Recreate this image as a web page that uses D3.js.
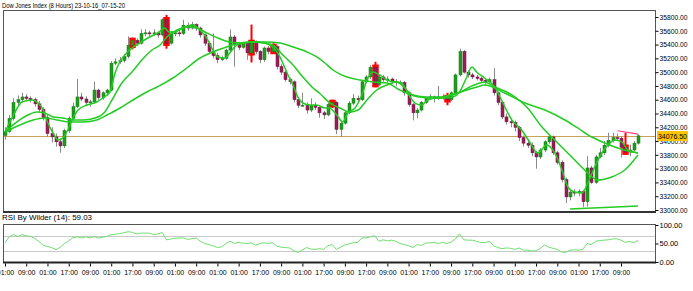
<!DOCTYPE html>
<html>
<head>
<meta charset="utf-8">
<script src="https://cdn.jsdelivr.net/npm/d3@7"></script>
<style>
  body { margin: 0; background: #fff; }
  text { font-family: "Liberation Sans", Arial, sans-serif; fill: #000; }
</style>
</head>
<body>
<svg id="canvas" width="693" height="291"></svg>
<script>
// ************************************************************************************** //
// Data (8 hour bars)

var opens = [34080,34140,34330,34560,34600,34640,34620,34600,34540,34460,34340,34110,34060,33990,33930,34150,34330,34500,34640,34610,
  34560,34570,34740,34630,34700,34740,35130,35150,35170,35230,35390,35460,35420,35560,35570,35560,35570,35540,35760,35420,
  35560,35570,35560,35680,35640,35690,35640,35540,35420,35300,35240,35180,35200,35320,35510,35400,35360,35420,35280,35430,
  35300,35180,35350,35300,35370,35080,35000,34890,34860,34600,34520,34520,34450,34520,34490,34410,34380,34530,34560,34170,
  34260,34410,34550,34620,34600,34860,34930,35070,34820,34930,34890,34900,34860,34850,34850,34700,34530,34410,34450,34560,
  34620,34640,34620,34640,34630,34600,34700,34960,35300,35000,34960,34930,34910,34880,34860,34890,34700,34560,34350,34280,
  34270,34200,34050,33970,33940,33830,33770,33870,33990,34060,33830,33690,33440,33190,33260,33250,33270,33120,33610,33400,
  33770,33830,33940,34010,34050,34040,33910,33840,33870,33970];
var highs = [34200,34380,34620,34660,34700,34680,34650,34630,34580,34490,34380,34200,34110,34040,34180,34360,34560,34900,34700,34650,
  34600,34860,34760,34720,34760,35160,35200,35220,35260,35520,35500,35490,35620,35620,35600,35620,35590,35780,35830,35600,
  35600,35620,35760,35720,35730,35710,35660,35560,35440,35560,35280,35240,35340,35620,35540,35440,35440,35440,35690,35460,
  35320,35370,35380,35420,35390,35120,35060,34920,34880,34640,34700,34560,34620,34560,34500,34440,34560,34600,34580,34300,
  34440,34580,34680,34660,34880,34960,35100,35150,34960,34960,34940,34920,34900,34880,34870,34720,34550,34480,34580,34640,
  34680,34660,34800,34680,34700,34720,34980,35340,35320,35030,34990,34960,34940,34910,34920,35060,34720,34580,34400,34320,
  34300,34220,34080,34020,33980,33860,33900,34010,34080,34080,33860,33720,33470,33300,33300,33300,33290,33780,33640,33800,
  33900,34000,34120,34120,34110,34070,34120,33950,34000,34100];
var lows = [34020,34120,34300,34520,34560,34580,34560,34500,34420,34300,34060,33980,33920,33830,33900,34120,34300,34480,34580,34520,
  34500,34550,34600,34600,34660,34720,35100,35120,35140,35200,35330,35380,35400,35520,35520,35530,35500,35520,35340,35400,
  35520,35520,35540,35600,35620,35600,35500,35380,35260,35200,35130,35160,35180,35300,35080,35320,35340,35180,35140,35260,
  35130,35150,35260,35280,35040,34960,34860,34820,34560,34480,34500,34400,34420,34450,34340,34320,34360,34480,34100,34060,
  34240,34390,34520,34560,34580,34840,34900,34780,34800,34860,34850,34830,34800,34820,34660,34500,34300,34330,34430,34540,
  34600,34560,34600,34600,34520,34580,34680,34940,34980,34920,34900,34880,34850,34820,34840,34660,34520,34320,34240,34200,
  34140,34000,33920,33900,33780,33600,33740,33840,33960,33800,33660,33400,33100,33140,33200,33200,33040,33050,33380,33380,
  33750,33800,33910,33980,34000,33760,33800,33780,33850,33950];
var closes = [34140,34330,34560,34600,34640,34620,34600,34540,34460,34340,34110,34060,33990,33930,34150,34330,34500,34640,34610,34560,
  34570,34740,34630,34700,34740,35130,35150,35170,35230,35390,35460,35420,35560,35570,35560,35570,35540,35760,35420,35560,
  35570,35560,35680,35640,35690,35640,35540,35420,35300,35240,35180,35200,35320,35510,35400,35360,35420,35280,35430,35300,
  35180,35350,35300,35370,35080,35000,34890,34860,34600,34520,34520,34450,34520,34490,34410,34380,34530,34560,34170,34260,
  34410,34550,34620,34600,34860,34930,35070,34820,34930,34890,34900,34860,34850,34850,34700,34530,34410,34450,34560,34620,
  34640,34620,34640,34630,34600,34700,34960,35300,35000,34960,34930,34910,34880,34860,34890,34700,34560,34350,34280,34270,
  34200,34050,33970,33940,33830,33770,33870,33990,34060,33830,33690,33440,33190,33260,33250,33270,33120,33610,33400,33770,
  33830,33940,34010,34050,34040,33910,33840,33870,33970,34076.5];

// bars marked by the pattern finder
var highlightBars = [30, 38, 58, 63, 77, 87, 104, 146];

// moving averages, [bar, value]
var maFast = [[0,34132],[2,34378],[4,34567],[6.4,34596],[7.8,34552],[9,34451],[10,34277],[11.3,34117],[12.5,34016],[13.6,34045],
  [14.8,34161],[15.8,34306],[17.2,34451],[19.3,34523],[21.6,34567],[23,34625],[24.7,34712],[25.9,34988],[27,35147],[28.2,35249],
  [29.9,35350],[31.8,35423],[34,35510],[36,35568],[37.6,35640],[38.6,35582],[39.8,35582],[41.9,35640],[44.2,35684],[45.9,35611],
  [47.5,35495],[48.7,35350],[50.1,35220],[51.8,35205],[52.9,35278],[54.6,35394],[56.5,35423],[58.1,35437],[59.5,35437],[61.2,35423],
  [63,35365],[64.2,35278],[65.4,35133],[66.6,34959],[67.8,34814],[68.9,34640],[70.1,34552],[71.8,34523],[73.4,34523],[75.3,34480],
  [76.3,34480],[78.1,34378],[79.5,34277],[80.7,34407],[82.4,34480],[84,34668],[85.4,34915],[86.6,35003],[88.2,34959],[89.9,34886],
  [91.8,34857],[93.4,34843],[94.8,34697],[96.5,34552],[98.1,34523],[99.5,34596],[101.6,34625],[103.5,34625],[105.4,34640],[107,34712],
  [108.7,34930],[109.9,35075],[111,35003],[112.9,34915],[115.3,34785],[117.2,34552],[119.3,34306],[121.6,34161],[123.5,33987],[125.4,33827],
  [127.5,33943],[129.4,33827],[131.1,33580],[132.5,33334],[134.1,33261],[135.8,33247],[137.2,33392],[138.8,33624],[140.5,33827],[141.9,33943],
  [143.5,34016],[145.2,33987],[146.6,33871],[149,33827]];
var maMid = [[0,34132],[2.8,34277],[5.4,34378],[7.5,34422],[9.4,34407],[11.3,34349],[13.6,34335],[15.8,34306],[18.4,34306],[21.2,34335],
  [23.5,34422],[25.2,34596],[27.5,34843],[29.9,35003],[32.2,35176],[34.6,35321],[36.5,35394],[38.1,35510],[40.5,35611],[42.8,35655],
  [45.2,35640],[47.5,35568],[50.1,35495],[52.9,35437],[55.8,35423],[58.4,35437],[60.7,35423],[63,35394],[65.4,35249],[67.8,35104],
  [70.1,34930],[72.5,34770],[74.1,34690],[76.5,34552],[78.8,34480],[81.2,34422],[83.1,34451],[85.2,34596],[87.5,34741],[89.9,34814],
  [92.2,34857],[94.1,34770],[95.8,34668],[97.6,34640],[100,34625],[102.4,34625],[104.7,34668],[107.1,34712],[109.4,34785],[111.8,34843],
  [112.9,34857],[115.3,34785],[118.1,34712],[120,34640],[122.8,34494],[126.4,34204],[130.1,33972],[134.1,33725],[137.2,33537],[139.5,33435],
  [142.8,33479],[145.9,33580],[149,33798]];
var maSlow = [[0,34132],[3.5,34233],[6.6,34306],[9.4,34335],[12.2,34306],[15.3,34277],[18.4,34277],[21.6,34306],[24,34378],[27.1,34480],
  [30.1,34596],[33.4,34712],[35.8,34785],[37.6,34843],[39.5,34915],[42.8,35060],[45.9,35205],[48.9,35292],[52.2,35365],[55.3,35423],
  [58.4,35437],[61.6,35437],[64.7,35423],[67.8,35365],[71.1,35292],[73.4,35220],[75.3,35133],[77.2,35031],[80.5,34930],[83.5,34886],
  [86.6,34857],[89.9,34843],[92.9,34741],[96,34668],[99.3,34640],[102.4,34640],[105.4,34668],[108.7,34741],[111.1,34785],[112.9,34814],
  [117.6,34697],[122.4,34552],[127.1,34451],[131.8,34306],[134.8,34190],[138.1,34059],[141.2,33972],[144.2,33900],[149,33827]];

// drawn lines
var trendLine = [[144.2,34150],[149,34100]];
var supportLine = [[133,33015],[149,33058]];
var lastPrice = 34076.50;

// RSI by Wilder (14)
var rsi = [52,68,74,69,74,71,69,64,55,45,42,39,33,40,50,57,66,68,65,68,
  65,69,65,67,69,74,75,77,79,82,80,76,78,78,78,74,76,80,60,62,
  64,65,65,61,63,65,56,50,47,44,39,41,50,56,50,53,51,50,52,45,
  50,52,50,52,43,40,39,38,30,26,33,39,35,34,36,34,44,47,34,40,
  46,49,52,53,65,65,68,71,56,60,57,59,56,50,47,44,39,47,45,51,
  52,53,50,53,50,54,62,76,60,59,59,56,53,52,56,44,39,36,38,37,
  34,38,32,32,30,30,37,46,40,37,34,27,26,32,33,32,34,50,47,56,
  58,59,60,62,63,59,53,56,52,59.03];
var rsiLevels = [30, 70];
var rsiTicks = [0, 50, 100];

// axes
var priceTicks = [33000,33200,33400,33600,33800,34000,34200,34400,34600,34800,35000,35200,35400,35600,35800];
var timeTickBars = [0,5,10,15,20,25,30,35,40,45,50,55,60,65,70,75,80,85,90,95,100,105,110,115,120,125,130,135,140,145];
var timeLabels = ["01:00","09:00","01:00","17:00","09:00","01:00","17:00","09:00","01:00","09:00",
  "01:00","01:00","17:00","09:00","01:00","17:00","09:00","17:00","09:00","01:00",
  "17:00","09:00","17:00","09:00","01:00","17:00","09:00","01:00","17:00","09:00"];

// ************************************************************************************** //
// Layout

var svg = d3.select('#canvas');
var panel = { left: 3, right: 655, top: 11, bottom: 212 };
var rsiPanel = { top: 224, bottom: 262 };

var x = d3.scaleLinear().domain([0, 149]).range([5, 638]);
var y = d3.scaleLinear().domain([33000, 35800]).range([210, 17]);
var yr = d3.scaleLinear().domain([0, 100]).range([262, 225]);

var bull = '#1f9d1f', bear = '#9a1d5a', wickCol = '#8a8a8a', maCol = '#22cc22';
var isMarked = i => highlightBars.indexOf(i) >= 0;

// titles
svg.append('text').attr('x', 2).attr('y', 8).attr('font-size', 8)
  .attr('textLength', 123).attr('lengthAdjust', 'spacingAndGlyphs')
  .text('Dow Jones Index (8 Hours) 23-10-16_07-15-20');
svg.append('text').attr('x', 2).attr('y', 220).attr('font-size', 8)
  .attr('textLength', 90).attr('lengthAdjust', 'spacingAndGlyphs')
  .text('RSI By Wilder (14): ' + d3.format('.2f')(rsi[rsi.length - 1]));

svg.append('defs').append('clipPath').attr('id', 'clipMain')
  .append('rect').attr('x', panel.left).attr('y', panel.top)
  .attr('width', panel.right - panel.left).attr('height', panel.bottom - panel.top);

var main = svg.append('g').attr('clip-path', 'url(#clipMain)');

// ************************************************************************************** //
// Candles

var bars = d3.range(closes.length);

main.append('line').attr('x1', panel.left).attr('x2', panel.right)
  .attr('y1', Math.round(y(lastPrice)) + 0.5).attr('y2', Math.round(y(lastPrice)) + 0.5)
  .attr('stroke', '#c9a25a').attr('stroke-width', 1);

// red boxes round the marked bars
main.selectAll('rect.mark').data(highlightBars).enter().append('rect').attr('class', 'mark')
  .attr('x', i => Math.round(x(i)) - 2)
  .attr('width', 5)
  .attr('y', i => y(Math.max(opens[i], closes[i])) - 2)
  .attr('height', i => Math.abs(y(opens[i]) - y(closes[i])) + 4)
  .attr('fill', '#ff1a1a').attr('stroke', '#ff0000').attr('stroke-width', 1.5);

var candle = main.selectAll('g.candle').data(bars).enter().append('g').attr('class', 'candle');

candle.append('line')
  .attr('x1', i => Math.round(x(i)) + 0.5).attr('x2', i => Math.round(x(i)) + 0.5)
  .attr('y1', i => y(highs[i])).attr('y2', i => y(lows[i]))
  .attr('stroke', i => isMarked(i) ? '#ff0000' : wickCol)
  .attr('stroke-width', i => isMarked(i) ? 2 : 1);

candle.append('rect')
  .attr('x', i => Math.round(x(i)) - 1)
  .attr('width', 3)
  .attr('y', i => y(Math.max(opens[i], closes[i])))
  .attr('height', i => Math.max(1, Math.abs(y(opens[i]) - y(closes[i]))))
  .attr('fill', i => closes[i] >= opens[i] ? bull : bear)
  .attr('stroke', i => closes[i] >= opens[i] ? '#137a13' : '#6e1040')
  .attr('stroke-width', 0.5);

// ************************************************************************************** //
// Moving averages and drawn lines

var maLine = d3.line().x(d => x(d[0])).y(d => y(d[1])).curve(d3.curveMonotoneX);
[maSlow, maMid, maFast].forEach(function(ma){
  main.append('path').attr('d', maLine(ma))
    .attr('fill', 'none').attr('stroke', maCol).attr('stroke-width', 1.5);
});

var straight = d3.line().x(d => x(d[0])).y(d => y(d[1]));
main.append('path').attr('d', straight(trendLine)).attr('fill', 'none')
  .attr('stroke', '#ff3d8b').attr('stroke-width', 1.2);
main.append('path').attr('d', straight(supportLine)).attr('fill', 'none')
  .attr('stroke', maCol).attr('stroke-width', 1.5);

// panel frame
svg.append('rect').attr('x', panel.left + 0.5).attr('y', panel.top - 0.5)
  .attr('width', panel.right - panel.left).attr('height', panel.bottom - panel.top)
  .attr('fill', 'none').attr('stroke', '#555');
svg.append('line').attr('x1', panel.left).attr('x2', panel.right + 1)
  .attr('y1', panel.bottom).attr('y2', panel.bottom).attr('stroke', '#333').attr('stroke-width', 2);

// price axis
var priceAxis = svg.append('g').attr('transform', 'translate(' + (panel.right + 0.5) + ',0)')
  .call(d3.axisRight(y).tickValues(priceTicks).tickFormat(d3.format('.2f')).tickSize(3).tickPadding(1));
priceAxis.select('.domain').remove();
priceAxis.selectAll('text').attr('font-size', 7).attr('font-family', '"Liberation Sans", Arial, sans-serif')
  .attr('textLength', 28).attr('lengthAdjust', 'spacingAndGlyphs');

// current price box
var lp = Math.round(y(lastPrice));
svg.append('rect').attr('x', 657).attr('y', lp - 5).attr('width', 31).attr('height', 10).attr('fill', '#ffc400');
svg.append('text').attr('x', 658).attr('y', lp + 3).attr('font-size', 7.5)
  .attr('textLength', 29).attr('lengthAdjust', 'spacingAndGlyphs')
  .text(d3.format('.2f')(lastPrice));

// ************************************************************************************** //
// RSI panel

rsiLevels.forEach(function(v){
  svg.append('line').attr('x1', panel.left).attr('x2', panel.right)
    .attr('y1', Math.round(yr(v)) + 0.5).attr('y2', Math.round(yr(v)) + 0.5)
    .attr('stroke', '#c8c8c8').attr('stroke-width', 1);
});

svg.append('path').datum(rsi)
  .attr('d', d3.line().x((d, i) => x(i)).y(d => yr(d)))
  .attr('fill', 'none').attr('stroke', '#6fdf6f').attr('stroke-width', 1);

svg.append('rect').attr('x', panel.left + 0.5).attr('y', rsiPanel.top + 0.5)
  .attr('width', panel.right - panel.left).attr('height', rsiPanel.bottom - rsiPanel.top)
  .attr('fill', 'none').attr('stroke', '#555');
svg.append('line').attr('x1', panel.left).attr('x2', panel.right + 1)
  .attr('y1', rsiPanel.bottom + 0.5).attr('y2', rsiPanel.bottom + 0.5).attr('stroke', '#222').attr('stroke-width', 2);

var rsiAxis = svg.append('g').attr('transform', 'translate(' + (panel.right + 0.5) + ',0)')
  .call(d3.axisRight(yr).tickValues(rsiTicks).tickFormat(d3.format('.2f')).tickSize(3).tickPadding(1));
rsiAxis.select('.domain').remove();
rsiAxis.selectAll('text').attr('font-size', 7.5).attr('font-family', '"Liberation Sans", Arial, sans-serif');

// time axis
var timeAxis = svg.append('g').attr('transform', 'translate(0,' + (rsiPanel.bottom + 1.5) + ')')
  .call(d3.axisBottom(x).tickValues(timeTickBars).tickFormat((d, i) => timeLabels[i]).tickSize(3).tickPadding(4));
timeAxis.select('.domain').remove();
timeAxis.selectAll('text').attr('font-size', 7).attr('font-family', '"Liberation Sans", Arial, sans-serif');
</script>
</body>
</html>
